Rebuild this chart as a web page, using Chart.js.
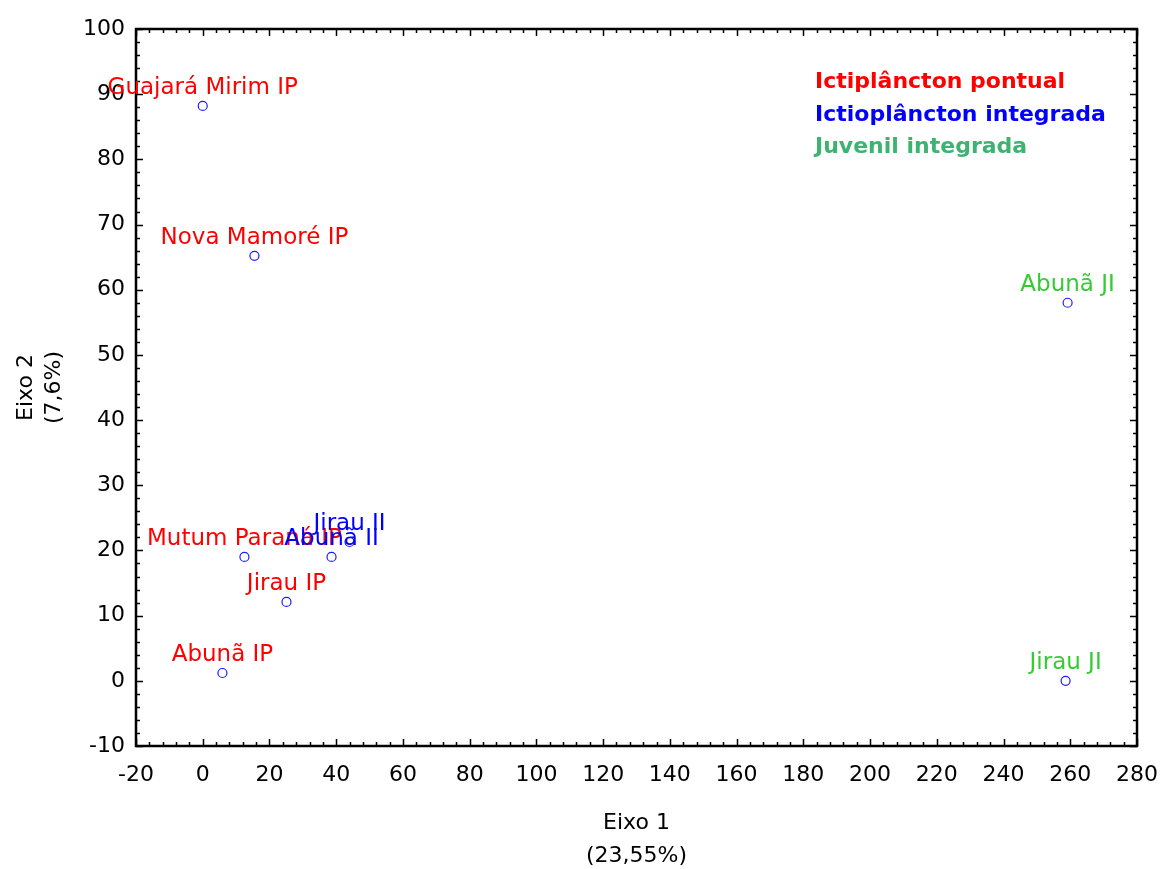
<!DOCTYPE html>
<html>
<head>
<meta charset="utf-8">
<script src="https://cdn.jsdelivr.net/npm/chart.js@4/dist/chart.umd.min.js"></script>
<style>
  html, body { margin: 0; padding: 0; background: #ffffff; }
  canvas { display: block; }
</style>
</head>
<body>
<canvas id="c" width="1163" height="869"></canvas>
<script>
// Site scores on the first two ordination axes
const sites  = ['Guajará Mirim IP', 'Nova Mamoré IP', 'Abunã IP', 'Jirau IP', 'Mutum Paraná IP',
                'Abunã II', 'Jirau II', 'Abunã JI', 'Jirau JI'];
const eixo1  = [0.0, 15.5, 5.9, 25.1, 12.5, 38.6, 44.0, 259.2, 258.6];
const eixo2  = [88.2, 65.2, 1.2, 12.1, 19.0, 19.0, 21.3, 58.0, 0.0];
const grupos = ['IP', 'IP', 'IP', 'IP', 'IP', 'II', 'II', 'JI', 'JI'];

const xTickValues = [-20, 0, 20, 40, 60, 80, 100, 120, 140, 160, 180, 200, 220, 240, 260, 280];
const yTickValues = [-10, 0, 10, 20, 30, 40, 50, 60, 70, 80, 90, 100];

const legendLabels = ['Ictiplâncton pontual', 'Ictioplâncton integrada', 'Juvenil integrada'];
const legendColors = ['#ff0000', '#0000ff', '#3cb371'];
const labelColors  = { IP: '#ff0000', II: '#0000ff', JI: '#33cc33' };

const xTitle = ['Eixo 1', '(23,55%)'];
const yTitle = ['Eixo 2', '(7,6%)'];

const FONT = '"DejaVu Sans", sans-serif';

// Frame, inward ticks, point labels, legend and axis titles
const overlay = {
  id: 'overlay',
  afterDraw(chart) {
    const { ctx, chartArea: a, scales: { x, y } } = chart;
    ctx.save();

    // inward tick marks on all four sides
    ctx.strokeStyle = '#000';
    ctx.lineWidth = 1.5;
    ctx.beginPath();
    for (let v = x.min; v <= x.max + 1e-9; v += 4) {
      const px = Math.round(x.getPixelForValue(v)) + 0.5;
      const len = (Math.abs(v % 20) < 1e-9) ? 7 : 4;
      ctx.moveTo(px, a.bottom); ctx.lineTo(px, a.bottom - len);
      ctx.moveTo(px, a.top);    ctx.lineTo(px, a.top + len);
    }
    for (let v = y.min; v <= y.max + 1e-9; v += 2) {
      const py = Math.round(y.getPixelForValue(v)) + 0.5;
      const len = (Math.abs(v % 10) < 1e-9) ? 7 : 4;
      ctx.moveTo(a.left, py);  ctx.lineTo(a.left + len, py);
      ctx.moveTo(a.right, py); ctx.lineTo(a.right - len, py);
    }
    ctx.stroke();

    // plot frame
    ctx.lineWidth = 2.5;
    ctx.strokeRect(a.left, a.top, a.right - a.left, a.bottom - a.top);

    // point labels
    ctx.font = '23px ' + FONT;
    ctx.textAlign = 'center';
    ctx.textBaseline = 'alphabetic';
    sites.forEach((s, i) => {
      const px = x.getPixelForValue(eixo1[i]);
      const py = y.getPixelForValue(eixo2[i]);
      ctx.fillStyle = labelColors[grupos[i]];
      ctx.fillText(s, px, py - 12);
    });

    // legend
    ctx.font = 'bold 22px ' + FONT;
    ctx.textAlign = 'left';
    legendLabels.forEach((t, i) => {
      ctx.fillStyle = legendColors[i];
      ctx.fillText(t, 815, 88 + i * 32.5);
    });

    // axis titles
    ctx.fillStyle = '#000';
    ctx.font = '22px ' + FONT;
    ctx.textAlign = 'center';
    const cx = (a.left + a.right) / 2;
    ctx.fillText(xTitle[0], cx, 829);
    ctx.fillText(xTitle[1], cx, 862);
    const cy = (a.top + a.bottom) / 2;
    [[yTitle[0], 32], [yTitle[1], 60]].forEach(([t, bx]) => {
      ctx.save();
      ctx.translate(bx, cy);
      ctx.rotate(-Math.PI / 2);
      ctx.fillText(t, 0, 0);
      ctx.restore();
    });

    ctx.restore();
  }
};

const points = eixo1.map((v, i) => ({ x: v, y: eixo2[i] }));

new Chart(document.getElementById('c'), {
  type: 'scatter',
  data: {
    datasets: [{
      data: points,
      pointStyle: 'circle',
      pointRadius: 4.5,
      pointHoverRadius: 4.5,
      borderWidth: 1.2,
      borderColor: '#1a1aff',
      backgroundColor: 'rgba(255,255,255,0)'
    }]
  },
  options: {
    responsive: false,
    animation: false,
    devicePixelRatio: 1,
    events: [],
    layout: { padding: { top: 29, right: 26, left: 0, bottom: 0 } },
    plugins: { legend: { display: false }, tooltip: { enabled: false } },
    scales: {
      x: {
        type: 'linear',
        min: -20, max: 280,
        grid: { display: false, drawTicks: false },
        border: { display: false },
        afterBuildTicks: s => { s.ticks = xTickValues.map(v => ({ value: v })); },
        afterFit: s => { s.height = 123; s.paddingLeft = 0; s.paddingRight = 0; },
        ticks: {
          autoSkip: false, maxRotation: 0, padding: 16,
          color: '#000', font: { family: 'DejaVu Sans', size: 22 }
        }
      },
      y: {
        type: 'linear',
        min: -10, max: 100,
        grid: { display: false, drawTicks: false },
        border: { display: false },
        afterBuildTicks: s => { s.ticks = yTickValues.map(v => ({ value: v })); },
        afterFit: s => { s.width = 136; s.paddingTop = 0; s.paddingBottom = 0; },
        ticks: {
          autoSkip: false, padding: 11,
          color: '#000', font: { family: 'DejaVu Sans', size: 22 }
        }
      }
    }
  },
  plugins: [overlay]
});
</script>
</body>
</html>
